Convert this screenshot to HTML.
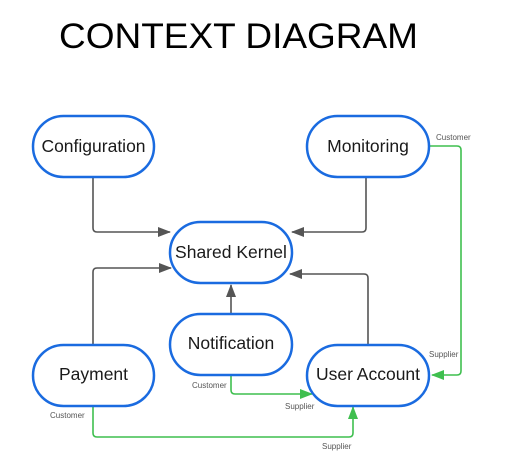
<!DOCTYPE html>
<html><head><meta charset="utf-8"><style>
html,body{margin:0;padding:0;background:#fff;}
svg{display:block;}
text{font-family:"Liberation Sans",Arial,sans-serif;}
</style></head><body>
<svg width="505" height="468" viewBox="0 0 505 468" xmlns="http://www.w3.org/2000/svg">
<text x="59" y="48" font-size="35" fill="#000" textLength="359" lengthAdjust="spacingAndGlyphs">CONTEXT DIAGRAM</text>
<defs>
<marker id="ag" markerWidth="13" markerHeight="10" refX="12" refY="5" orient="auto" markerUnits="userSpaceOnUse"><path d="M0,0 L13,5 L0,10 z" fill="#555"/></marker>
<marker id="agr" markerWidth="13" markerHeight="10" refX="12" refY="5" orient="auto" markerUnits="userSpaceOnUse"><path d="M0,0 L13,5 L0,10 z" fill="#3fbf4f"/></marker>
</defs>
<g fill="none" stroke="#555" stroke-width="1.6">
<path d="M93 177 V228 Q93 232 97 232 H170" marker-end="url(#ag)"/>
<path d="M366 177 V228 Q366 232 362 232 H292" marker-end="url(#ag)"/>
<path d="M93 344 V272 Q93 268 97 268 H171" marker-end="url(#ag)"/>
<path d="M368 344 V278 Q368 274 364 274 H290" marker-end="url(#ag)"/>
<path d="M231 314 V285" marker-end="url(#ag)"/>
</g>
<g fill="none" stroke="#3fbf4f" stroke-width="1.6">
<path d="M430 146 H457 Q461 146 461 150 V371 Q461 375 457 375 H432" marker-end="url(#agr)"/>
<path d="M231 375 V390 Q231 394 235 394 H312" marker-end="url(#agr)"/>
<path d="M93 406 V433 Q93 437 97 437 H349 Q353 437 353 433 V407" marker-end="url(#agr)"/>
</g>
<g fill="#fff" stroke="#1a6be0" stroke-width="2.5">
<rect x="33" y="116" width="121" height="61" rx="30.5"/>
<rect x="307" y="116" width="122" height="61" rx="30.5"/>
<rect x="170" y="222" width="122" height="61" rx="30.5"/>
<rect x="170" y="314" width="122" height="61" rx="30.5"/>
<rect x="33" y="345" width="121" height="61" rx="30.5"/>
<rect x="307" y="345" width="122" height="61" rx="30.5"/>
</g>
<g font-size="17.5" fill="#1a1a1a" text-anchor="middle">
<text x="93.5" y="152">Configuration</text>
<text x="368" y="152">Monitoring</text>
<text x="231" y="258">Shared Kernel</text>
<text x="231" y="349">Notification</text>
<text x="93.5" y="380">Payment</text>
<text x="368" y="380">User Account</text>
</g>
<g font-size="8" fill="#555">
<text x="436" y="140">Customer</text>
<text x="429" y="357">Supplier</text>
<text x="192" y="388">Customer</text>
<text x="285" y="409">Supplier</text>
<text x="50" y="418">Customer</text>
<text x="322" y="449">Supplier</text>
</g>
</svg>
</body></html>
